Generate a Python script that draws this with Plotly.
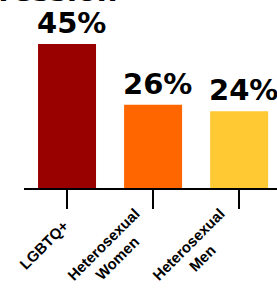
import plotly.graph_objects as go

categories = ["LGBTQ+", "Heterosexual<br>Women", "Heterosexual<br>Men"]
values = [45, 26, 24]
colors = ["#990000", "#FF6600", "#FFC933"]
title_text = "Depression"
label_shift = [(-24, -57), (-43, -63), (-44, -63)]

fig = go.Figure(go.Bar(
    x=categories, y=values,
    marker=dict(color=colors, line=dict(width=0)),
    cliponaxis=False, hoverinfo="skip",
))

for cat, v in zip(categories, values):
    fig.add_annotation(
        text="<b>%d%%</b>" % v, x=cat, y=v, xref="x", yref="y",
        xanchor="center", yanchor="bottom", xshift=4, yshift=2, showarrow=False,
        font=dict(family="DejaVu Sans", size=29, color="black"),
    )

for cat, (dx, dy) in zip(categories, label_shift):
    fig.add_annotation(
        text="<b>" + cat + "</b>", x=cat, y=0, xref="x", yref="y",
        xanchor="center", yanchor="middle", xshift=dx, yshift=dy,
        textangle=-45, align="center", showarrow=False,
        font=dict(family="Liberation Sans", size=15, color="black"),
    )

fig.add_annotation(
    text="<b>" + title_text + "</b>", xref="paper", yref="paper",
    x=0.379, y=1, xanchor="right", yanchor="bottom", yshift=-10,
    showarrow=False, font=dict(family="DejaVu Sans", size=29, color="black"),
)

fig.update_layout(
    width=277, height=301,
    margin=dict(l=24, r=0, t=0, b=113),
    plot_bgcolor="white", paper_bgcolor="white",
    bargap=0.326, showlegend=False,
)
fig.update_xaxes(
    range=[-0.5, 2.44], showline=True, linecolor="black", linewidth=2,
    ticks="outside", ticklen=19, tickwidth=2, tickcolor="black",
    showticklabels=False, automargin=False, showgrid=False,
)
fig.update_yaxes(range=[0, 58.75], visible=False, showgrid=False, automargin=False)

fig.write_html(
    "out.html",
    config={"displayModeBar": False},
    post_script="document.body.style.margin='0';document.body.style.overflow='hidden';",
)
